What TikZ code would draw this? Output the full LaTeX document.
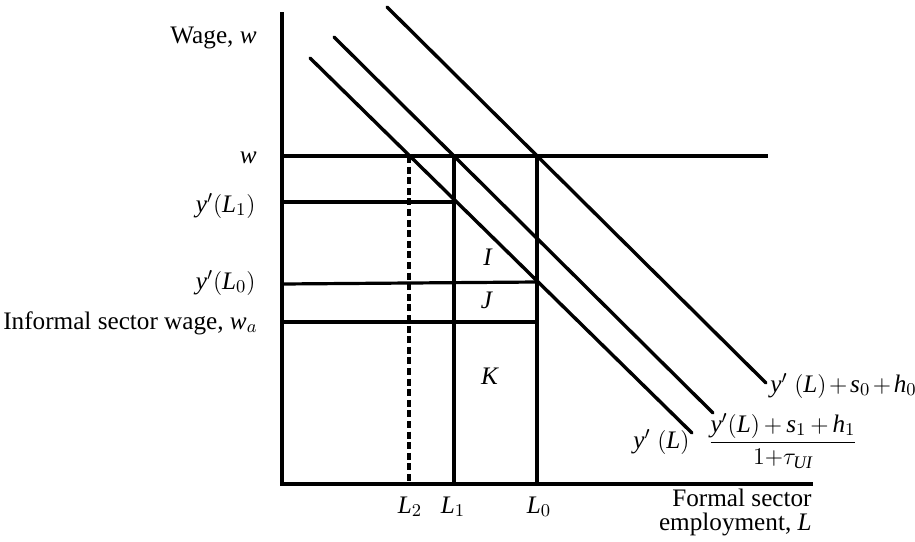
\documentclass[tikz,border=0pt]{standalone}
\usepackage{amsmath}
\usepackage{fontspec}
\setmainfont{Liberation Serif}
\usetikzlibrary{positioning}

\begin{document}
\begin{tikzpicture}[x=0.5pt, y=-0.5pt,
  ax/.style={line width=1.7pt},
  crv/.style={line width=1.7pt, line cap=round},
  lvl/.style={line width=1.6pt},
  lbl/.style={font=\fontsize{12.6}{14}\selectfont, inner sep=0pt}]
  \useasboundingbox (0,0) rectangle (915,541);
  % axes
  \coordinate (top) at (282,12);
  \coordinate (o) at (282,484);
  \coordinate (xend) at (813,484);
  \draw[ax] (top) -- (o) -- (xend);
  % demand curves
  \coordinate (ya) at (310,58);   \coordinate (yb) at (692,433);
  \coordinate (ma) at (334,37);   \coordinate (mb) at (713,413);
  \coordinate (ta) at (387,7);    \coordinate (tb) at (766,383);
  \draw[crv] (ya) -- (yb);
  \draw[crv] (ma) -- (mb);
  \draw[crv] (ta) -- (tb);
  % wage levels
  \coordinate (w0) at (282,156);   \coordinate (w1) at (768,156);
  \coordinate (l1a) at (282,202);  \coordinate (l1b) at (454,202);
  \coordinate (l0a) at (282,284);  \coordinate (l0b) at (537,282);
  \coordinate (wa0) at (282,322);  \coordinate (wa1) at (537,322);
  \draw[lvl] (w0) -- (w1);
  \draw[lvl] (l1a) -- (l1b);
  \draw[lvl] (l0a) -- (l0b);
  \draw[lvl] (wa0) -- (wa1);
  % employment levels
  \coordinate (L2t) at (409,156);  \coordinate (L2b) at (409,484);
  \coordinate (L1t) at (454,156);  \coordinate (L1b) at (454,484);
  \coordinate (L0t) at (537,156);  \coordinate (L0b) at (537,484);
  \draw[lvl, dash pattern=on 3.5pt off 1.8pt] (L2t) -- (L2b);
  \draw[lvl] (L1t) -- (L1b);
  \draw[lvl] (L0t) -- (L0b);
  % labels
  \node[lbl, anchor=base east] (wage) at (257,43) {Wage,\ \textit{w}};
  \node[lbl, anchor=base east] (wlab) at (257,163) {\textit{w}};
  \node[lbl, anchor=base east] (yl1) at (256,212) {$\textit{y}'(\textit{L}_1)$};
  \node[lbl, anchor=base east] (yl0) at (256,289) {$\textit{y}'(\textit{L}_0)$};
  \node[lbl, anchor=base east] (walab) at (258,329) {Informal sector wage,\ $\textit{w}_a$};
  \node[lbl, anchor=base] (l2lab) at (410,513) {$\textit{L}_2$};
  \node[lbl, anchor=base] (l1lab) at (453,513) {$\textit{L}_1$};
  \node[lbl, anchor=base] (l0lab) at (539,513) {$\textit{L}_0$};
  \node[lbl, anchor=base] (areaI) at (488,265) {\textit{I}};
  \node[lbl, anchor=base] (areaJ) at (487,308) {\textit{J}};
  \node[lbl, anchor=base] (areaK) at (490,384) {\textit{K}};
  \node[lbl, anchor=base west] (ylab) at (633,448) {$\textit{y}'\;(\textit{L})$};
  \node[lbl] (flab) at (783,441)
     {$\displaystyle\frac{\textit{y}'(\textit{L}){\,+\,}\textit{s}_1{\,+\,}\textit{h}_1}{1{+}\tau_{\textit{UI}}}$};
  \node[lbl, anchor=base west] (tlab) at (770,392)
     {$\textit{y}'\;(\textit{L}){\mkern2mu+\mkern2mu}\textit{s}_0{\mkern2mu+\mkern2mu}\textit{h}_0$};
  \node[lbl, align=right, anchor=north east,
        font=\fontsize{12.6}{12}\selectfont] (xlab) at (812,489)
     {Formal sector\\employment,\ \textit{L}};
\end{tikzpicture}
\end{document}
